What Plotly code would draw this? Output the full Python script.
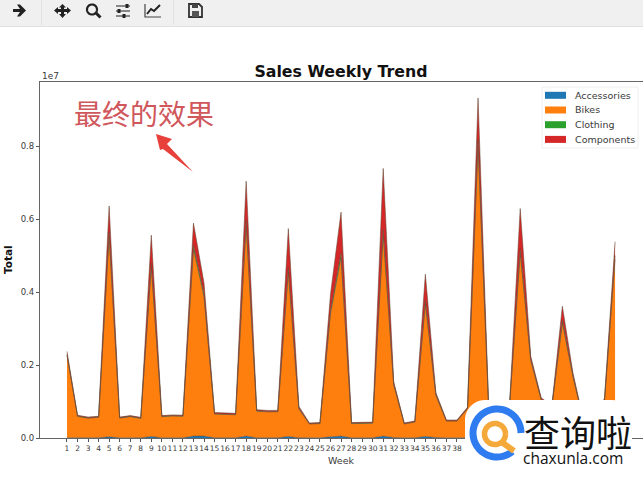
import numpy as np
import plotly.graph_objects as go

W, H = 643, 489
weeks = list(range(1, 54))
accessories = [12000,12000,12000,14000,40000,12000,12000,14000,50000,12000,12000,14000,60000,60000,15000,15000,15000,60000,15000,15000,15000,50000,15000,12000,12000,40000,60000,12000,12000,14000,60000,20000,12000,14000,50000,20000,12000,12000,12000,60000,12000,12000,15000,50000,20000,15000,12000,30000,20000,12000,12000,15000,40000]
bikes = [2260000,590000,540000,560000,5500000,540000,580000,530000,4650000,580000,600000,590000,5130000,3820000,650000,650000,630000,5780000,730000,710000,710000,4510000,790000,380000,390000,3370000,4890000,390000,390000,400000,5520000,1440000,380000,430000,3640000,1150000,460000,460000,800000,7950000,890000,460000,920000,5020000,2110000,1030000,840000,3130000,1670000,460000,460000,1030000,4860000]
clothing = [30000,10000,10000,10000,120000,10000,10000,10000,100000,10000,10000,10000,110000,80000,10000,10000,10000,140000,10000,10000,10000,120000,20000,10000,10000,90000,130000,10000,10000,10000,150000,30000,10000,10000,100000,30000,10000,10000,10000,170000,20000,10000,20000,130000,40000,20000,20000,80000,40000,10000,10000,20000,110000]
components = [80000,20000,20000,20000,710000,20000,20000,20000,770000,20000,20000,20000,600000,300000,30000,30000,30000,1070000,30000,30000,30000,1070000,50000,20000,20000,450000,1120000,20000,20000,20000,1670000,60000,20000,20000,710000,50000,20000,20000,30000,1150000,30000,20000,40000,1100000,80000,40000,30000,380000,70000,20000,20000,40000,380000]
week_labels = [str(w) for w in range(1, 39)]
y_tick_values = [0, 2000000, 4000000, 6000000, 8000000]
y_tick_labels = ["0.0", "0.2", "0.4", "0.6", "0.8"]

series = [("Accessories", accessories, "#1f77b4"), ("Bikes", bikes, "#ff7f0e"),
          ("Clothing", clothing, "#2ca02c"), ("Components", components, "#d62728")]

FONT = "DejaVu Sans"
INK = "#3a3a3a"

def px(x): return x / W
def py(y): return 1 - y / H
def path(pts, close=False):
    s = "M " + " L ".join(f"{px(x):.5f} {py(y):.5f}" for x, y in pts)
    return s + (" Z" if close else "")
def arc(cx, cy, r, a0, a1, n=48):
    t = np.radians(np.linspace(a0, a1, n))
    return [(cx + r*np.cos(v), cy + r*np.sin(v)) for v in t]

shapes = []
def poly(pts, fill=None, line=None, lw=0, close=True):
    shapes.append(dict(type="path", xref="paper", yref="paper", path=path(pts, close),
                       fillcolor=fill if fill else "rgba(0,0,0,0)",
                       line=dict(color=line if line else "rgba(0,0,0,0)", width=lw), layer="above"))
def rect(x0, y0, x1, y1, fill, line=None):
    shapes.append(dict(type="rect", xref="paper", yref="paper", x0=px(x0), x1=px(x1), y0=py(y1), y1=py(y0),
                       fillcolor=fill, line=dict(width=1 if line else 0, color=line or "rgba(0,0,0,0)"), layer="above"))

# toolbar
rect(0, 0, W, 26, "#f0f0f0")
rect(0, 26, W, 27, "#e0e0e0")
rect(41, 0, 42, 25, "#e2e2e2")
rect(173, 0, 174, 25, "#e2e2e2")
TB = "#222222"
poly([(13, 9), (20, 9), (17, 4.5), (20, 4.5), (26, 10.5), (20, 16.5), (17, 16.5), (20, 12), (13, 12)], fill=TB)
# move
poly([(62.5, 4), (66, 7.5), (64, 7.5), (64, 9), (67, 9), (67, 7), (71, 10.5), (67, 14), (67, 12), (64, 12), (64, 14), (66, 14),
      (62.5, 18), (59, 14), (61, 14), (61, 12), (58, 12), (58, 14), (54, 10.5), (58, 7), (58, 9), (61, 9), (61, 7.5), (59, 7.5)], fill=TB)
# zoom
poly(arc(92, 9.5, 5, 0, 360), line=TB, lw=2.2, close=False)
poly([(96, 13), (100.5, 17.5)], line=TB, lw=3, close=False)
# sliders
for yy, knob in ((6, 127), (11, 119), (16, 124)):
    poly([(116, yy), (130, yy)], line="#444444", lw=1.2, close=False)
    rect(knob - 1.5, yy - 2, knob + 1.5, yy + 2, TB)
# line chart
poly([(145, 4), (145, 17), (161, 17)], line="#444444", lw=1.2, close=False)
poly([(147, 14), (151, 9), (154, 11), (160, 5)], line=TB, lw=2, close=False)
# save
poly([(189, 4), (199, 4), (202, 7), (202, 17), (189, 17)], line="#333333", lw=1.8)
rect(192, 4, 198, 8, "#444444")
rect(192, 11, 199, 17, "#555555")

# red arrow
poly([(156, 134), (172, 139), (167, 144), (193, 172), (163, 149), (160, 150)], fill="#e8403a")

# watermark panel
shapes.append(dict(type="path", xref="paper", yref="paper", layer="above", fillcolor="white", line=dict(width=0),
                   path=path(arc(485, 420, 20, 180, 270, 12) + arc(612, 420, 20, 270, 360, 12) + [(632, 489), (465, 489)], True)))
poly(arc(497, 433, 24, 50, 360, 64), line="#2f7bf0", lw=7, close=False)
poly(arc(495, 434, 10.5, 0, 360), line="#f5a93a", lw=5.5, close=False)
poly([(503, 443), (514, 451)], line="#f5a93a", lw=6, close=False)

# legend panel
rect(542, 87, 638, 148, "rgba(255,255,255,0.85)", "#eeeeee")

fig = go.Figure()
for name, vals, col in series:
    fig.add_trace(go.Scatter(x=weeks, y=vals, name=name, mode="lines", stackgroup="one", showlegend=False,
                             fillcolor=col, line=dict(color="rgba(95,70,50,0.6)", width=0.9)))

annotations = [
    dict(text="1e7", x=px(40), y=py(76), xanchor="left", yanchor="middle", font=dict(size=9, color=INK)),
    dict(text="最终的效果", x=px(144), y=py(113), xanchor="center", yanchor="middle",
         font=dict(family="Noto Sans CJK SC", size=28, color="#d0575c")),
    dict(text="查询啦", x=px(578), y=py(431), xanchor="center", yanchor="middle",
         font=dict(family="Noto Sans CJK SC", size=36, color="#111111")),
    dict(text="chaxunla.com", x=px(573), y=py(458), xanchor="center", yanchor="middle",
         font=dict(family="Open Sans", size=15.5, color="#111111")),
    dict(text="<b>Total</b>", x=px(8), y=py(260), xanchor="center", yanchor="middle", textangle=-90,
         font=dict(size=10.5, color="#111111")),
    dict(text="Week", x=px(341), y=py(460), xanchor="center", yanchor="middle", font=dict(size=9.5, color=INK)),
]
# legend rows
for i, (name, _, col) in enumerate(series):
    yc = 95.3 + i * 14.7
    rect(545, yc - 3.5, 566, yc + 3.5, col)
    annotations.append(dict(text=name, x=px(573), y=py(yc), xanchor="left", yanchor="middle", font=dict(size=9.5, color=INK)))
for a in annotations:
    a.update(xref="paper", yref="paper", showarrow=False)

fig.update_layout(
    width=W, height=H, margin=dict(l=0, r=0, t=0, b=0), autosize=False,
    paper_bgcolor="white", plot_bgcolor="white", showlegend=False,
    font=dict(family=FONT, color=INK),
    title=dict(text="<b>Sales Weekly Trend</b>", x=px(341), y=py(71), xanchor="center", yanchor="middle",
               font=dict(size=15.8, color="#111111")),
    xaxis=dict(domain=[px(40), 1], range=[-1.56, 55.65], tickmode="array", tickvals=weeks[:len(week_labels)], ticktext=week_labels,
               tickangle=0, tickfont=dict(size=7.5, color=INK), ticks="outside", ticklen=3, tickcolor="#555555", automargin=False,
               showline=True, linecolor="#666666", linewidth=1.2, mirror=True, showgrid=False, zeroline=False),
    yaxis=dict(domain=[py(438.3), py(82.3)], range=[0, 9760000], tickmode="array", tickvals=y_tick_values, ticktext=y_tick_labels,
               tickfont=dict(size=8.5, color=INK), ticks="outside", ticklen=3, tickcolor="#555555", automargin=False,
               showline=True, linecolor="#666666", linewidth=1.2, mirror=True, showgrid=False, zeroline=False),
    shapes=shapes, annotations=annotations,
)
fig.write_html("out.html", config={"displayModeBar": False},
               post_script="document.body.style.margin='0';document.body.style.overflow='hidden';")
